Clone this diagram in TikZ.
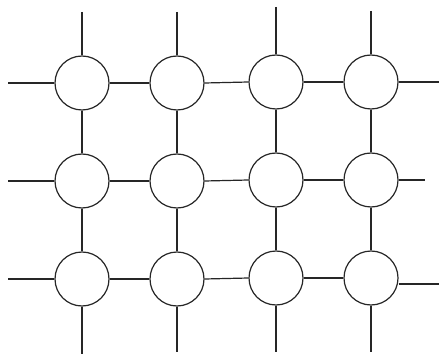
\documentclass[tikz,border=0pt]{standalone}
\begin{document}
\begin{tikzpicture}[x=1pt,y=-1pt,
  cell/.style={circle,draw=black!85,line width=1.2pt,minimum size=54pt,inner sep=0pt},
  wire/.style={draw=black!85,line width=1.2pt}]
\useasboundingbox (0,0) rectangle (439,358);
% circles
\node[cell] (c11) at (82,83) {};
\node[cell] (c12) at (177,83) {};
\node[cell] (c13) at (276,82) {};
\node[cell] (c14) at (371,82) {};
\node[cell] (c21) at (82,181) {};
\node[cell] (c22) at (177,181) {};
\node[cell] (c23) at (276,180) {};
\node[cell] (c24) at (371,180) {};
\node[cell] (c31) at (82,279) {};
\node[cell] (c32) at (177,279) {};
\node[cell] (c33) at (276,278) {};
\node[cell] (c34) at (371,278) {};
% free ends
\coordinate (t1) at (82,12);
\coordinate (t2) at (177,12);
\coordinate (t3) at (276,7);
\coordinate (t4) at (371,11);
\coordinate (b1) at (82,354);
\coordinate (b2) at (177,352);
\coordinate (b3) at (276,352);
\coordinate (b4) at (371,352);
\coordinate (l1) at (8,83);
\coordinate (l2) at (8,181);
\coordinate (l3) at (8,279);
\coordinate (r1) at (439,82);
\coordinate (r2) at (425,180);
\coordinate (r3) at (439,284);
% vertical wires
\foreach \c in {1,2,3,4}{
  \draw[wire] (t\c) -- (c1\c.north);
  \draw[wire] (c1\c.south) -- (c2\c.north);
  \draw[wire] (c2\c.south) -- (c3\c.north);
  \draw[wire] (c3\c.south) -- (b\c);
}
% horizontal wires
\foreach \r in {1,2,3}{
  \draw[wire] (l\r) -- (c\r1.west);
  \draw[wire] (c\r1.east) -- (c\r2.west);
  \draw[wire] (c\r2.east) -- (c\r3.west);
  \draw[wire] (c\r3.east) -- (c\r4.west);
}
\draw[wire] (c14.east) -- (r1);
\draw[wire] (c24.east) -- (r2);
\draw[wire] (c34.east |- r3) -- (r3);
\end{tikzpicture}
\end{document}
